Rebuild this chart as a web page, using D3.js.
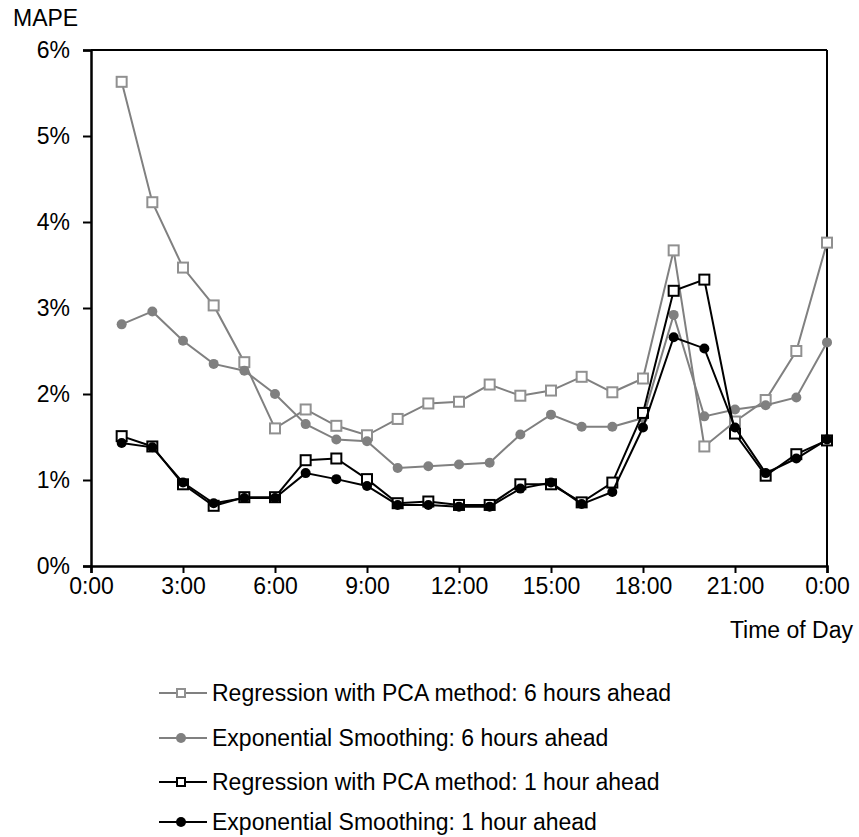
<!DOCTYPE html>
<html><head><meta charset="utf-8">
<script src="https://cdn.jsdelivr.net/npm/d3@7"></script>
<style>body{margin:0;background:#fff}text{font-family:"Liberation Sans",Arial,sans-serif;fill:#000}</style>
</head><body>
<svg id="c" width="859" height="837"></svg>
<script>
const hours = [1,2,3,4,5,6,7,8,9,10,11,12,13,14,15,16,17,18,19,20,21,22,23,24];
const regPca6 = [5.63,4.23,3.47,3.03,2.37,1.60,1.82,1.63,1.52,1.71,1.89,1.91,2.11,1.98,2.04,2.20,2.02,2.18,3.67,1.39,1.68,1.93,2.50,3.76];
const expSm6 = [2.81,2.96,2.62,2.35,2.27,2.00,1.65,1.47,1.45,1.14,1.16,1.18,1.20,1.53,1.76,1.62,1.62,1.72,2.92,1.74,1.82,1.87,1.96,2.60];
const regPca1 = [1.51,1.39,0.95,0.70,0.80,0.80,1.23,1.25,1.01,0.73,0.75,0.71,0.71,0.95,0.95,0.74,0.97,1.78,3.20,3.33,1.54,1.05,1.30,1.46];
const expSm1 = [1.43,1.38,0.97,0.73,0.79,0.79,1.08,1.01,0.93,0.71,0.71,0.69,0.69,0.90,0.97,0.72,0.86,1.61,2.66,2.53,1.61,1.08,1.25,1.47];
const xTicks = [0,3,6,9,12,15,18,21,24];
const xTickLabels = ["0:00","3:00","6:00","9:00","12:00","15:00","18:00","21:00","0:00"];
const yTicks = [0,1,2,3,4,5,6];
const seriesNames = ["Regression with PCA method: 6 hours ahead","Exponential Smoothing: 6 hours ahead","Regression with PCA method: 1 hour ahead","Exponential Smoothing: 1 hour ahead"];

const series = [
  {name: seriesNames[0], values: regPca6, color: "#808080", marker: "square"},
  {name: seriesNames[1], values: expSm6, color: "#808080", marker: "circle"},
  {name: seriesNames[2], values: regPca1, color: "#000000", marker: "square"},
  {name: seriesNames[3], values: expSm1, color: "#000000", marker: "circle"}
];

const FS = "23px";
const svg = d3.select("#c");
const L = 91, R = 827, T = 50, B = 566;
const x = d3.scaleLinear().domain([0,24]).range([L,R]);
const y = d3.scaleLinear().domain([0,6]).range([B,T]);

// frame
svg.append("line").attr("x1",L).attr("x2",R).attr("y1",T).attr("y2",T).attr("stroke","#000").attr("stroke-width",2);
svg.append("line").attr("x1",R).attr("x2",R).attr("y1",T).attr("y2",B).attr("stroke","#000").attr("stroke-width",2);

const xAxis = svg.append("g").attr("transform",`translate(0,${B})`)
  .call(d3.axisBottom(x).tickValues(xTicks).tickFormat((d,i)=>xTickLabels[i]).tickSize(7).tickPadding(5));
const yAxis = svg.append("g").attr("transform",`translate(${L},0)`)
  .call(d3.axisLeft(y).tickValues(yTicks).tickFormat(d=>d+"%").tickSize(8).tickPadding(13));
[xAxis,yAxis].forEach(g=>{
  g.select(".domain").attr("stroke","#000").attr("stroke-width",2.5);
  g.selectAll(".tick line").attr("stroke","#000").attr("stroke-width",2);
  g.selectAll("text").style("font-size",FS).attr("fill","#000");
});

svg.append("text").attr("x",13).attr("y",26).style("font-size",FS).text("MAPE");
svg.append("text").attr("x",853).attr("y",638).attr("text-anchor","end").style("font-size",FS).text("Time of Day");

const line = d3.line().x((d,i)=>x(hours[i])).y(d=>y(d));

function drawMarker(g, type, cx, cy, color) {
  if (type === "square") {
    g.append("rect").attr("x",cx-5).attr("y",cy-5).attr("width",10).attr("height",10)
      .attr("fill","#fff").attr("stroke", color === "#808080" ? "#909090" : "#000").attr("stroke-width",2);
  } else {
    g.append("circle").attr("cx",cx).attr("cy",cy).attr("r",5).attr("fill",color);
  }
}

series.forEach(s=>{
  const g = svg.append("g");
  g.append("path").datum(s.values).attr("d",line).attr("fill","none").attr("stroke",s.color).attr("stroke-width",2);
  s.values.forEach((v,i)=>drawMarker(g, s.marker, x(hours[i]), y(v), s.color));
});

// legend
const legY = [693,738,782,822];
series.forEach((s,i)=>{
  const g = svg.append("g");
  g.append("line").attr("x1",159).attr("x2",207).attr("y1",legY[i]).attr("y2",legY[i]).attr("stroke",s.color).attr("stroke-width",2);
  if (s.marker === "square") {
    g.append("rect").attr("x",177).attr("y",legY[i]-4).attr("width",8).attr("height",8)
      .attr("fill","#fff").attr("stroke", s.color === "#808080" ? "#909090" : "#000").attr("stroke-width",2);
  } else {
    g.append("circle").attr("cx",181).attr("cy",legY[i]).attr("r",5).attr("fill",s.color);
  }
  g.append("text").attr("x",212).attr("y",legY[i]+8).style("font-size",FS).text(s.name);
});
</script>
</body></html>
